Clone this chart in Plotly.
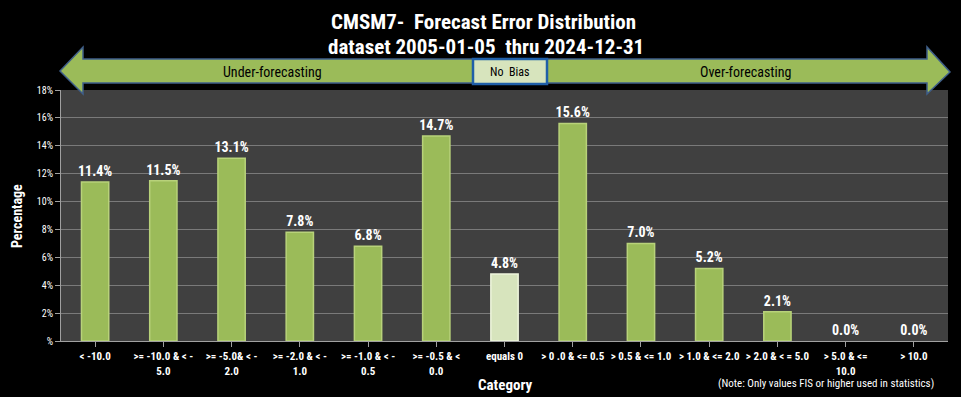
import plotly.graph_objects as go

categories = ["< -10.0", ">= -10.0 & < -<br>5.0", ">= -5.0& < -<br>2.0", ">= -2.0 & < -<br>1.0",
              ">= -1.0 & < -<br>0.5", ">= -0.5 & <<br>0.0", "equals 0", "> 0 .0 & <= 0.5",
              "> 0.5 & <= 1.0", "> 1.0 & <= 2.0", "> 2.0 & < = 5.0", "> 5.0 & <=<br>10.0", "> 10.0"]
values = [11.4, 11.5, 13.1, 7.8, 6.8, 14.7, 4.8, 15.6, 7.0, 5.2, 2.1, 0.0, 0.0]
bar_colors = ["#9bbb59"] * 6 + ["#d7e4bd"] + ["#9bbb59"] * 6
line_colors = ["#b8d27a"] * 6 + ["#eef5dc"] + ["#b8d27a"] * 6
y_tickvals = [0, 2, 4, 6, 8, 10, 12, 14, 16, 18]
y_ticktext = ["%", "2%", "4%", "6%", "8%", "10%", "12%", "14%", "16%", "18%"]

FONT = "Liberation Sans Narrow, Roboto Condensed, Open Sans, sans-serif"

fig = go.Figure()
fig.add_trace(go.Bar(
    x=categories, y=values,
    marker=dict(color=bar_colors,
                line=dict(color=line_colors, width=[1.5 if v > 0 else 0 for v in values])),
    width=0.4,
    text=[f"<b>{v:.1f}%</b>" for v in values],
    textposition="outside",
    constraintext="none",
    textfont=dict(color="white", size=14, family=FONT),
    cliponaxis=False,
    hoverinfo="skip",
))

L, R, T, B = 61, 948, 90, 341
def px(x):
    return (x - L) / (R - L)
def py(y):
    return (B - y) / (B - T)

pts = [(60, 71), (83, 47), (83, 59), (927, 59), (927, 47), (950, 72), (927, 94),
       (927, 83), (83, 83), (83, 94)]
path = "M " + " L ".join(f"{px(x):.5f},{py(y):.5f}" for x, y in pts) + " Z"

shapes = [
    dict(type="path", xref="paper", yref="paper", path=path,
         fillcolor="#9bbb59", line=dict(color="#3f5f8a", width=1.5), layer="above"),
    dict(type="rect", xref="paper", yref="paper", x0=px(473), x1=px(547), y0=py(84), y1=py(59),
         fillcolor="#d7e4bd", line=dict(color="#1f5fa8", width=2.5), layer="above"),
]

def ann(text, x, y, size, color="white", angle=0):
    return dict(text=text, x=px(x), y=py(y), xref="paper", yref="paper",
                xanchor="center", yanchor="middle", showarrow=False, textangle=angle,
                font=dict(color=color, size=size, family=FONT))

annotations = [
    ann("Under-forecasting", 272, 72, 14, "black"),
    ann("No  Bias", 510, 71.5, 12, "black"),
    ann("Over-forecasting", 745, 72, 14, "black"),
    ann("<b>CMSM7-  Forecast Error Distribution</b>", 483, 22, 21),
    ann("<b>dataset 2005-01-05  thru 2024-12-31</b>", 486, 47, 21),
    ann("(Note: Only values FIS or higher used in statistics)", 826, 383, 11),
    ann("<b>Category</b>", 505, 385, 15),
    ann("<b>Percentage</b>", 17, 216, 14, angle=-90),
]

fig.update_layout(
    width=961, height=397,
    paper_bgcolor="black", plot_bgcolor="#404040",
    margin=dict(l=L, r=961 - R, t=T, b=397 - B, autoexpand=False),
    showlegend=False,
    hovermode=False,
    shapes=shapes, annotations=annotations,
    font=dict(family=FONT, color="white"),
    xaxis=dict(
        automargin=False,
        tickfont=dict(color="white", size=11, family=FONT, weight="bold"),
        ticks="outside", ticklen=5, tickcolor="#a0a0a0",
        showline=True, linecolor="#a0a0a0", linewidth=1,
        tickangle=0,
    ),
    yaxis=dict(
        automargin=False,
        range=[0, 18], tickvals=y_tickvals, ticktext=y_ticktext,
        tickfont=dict(color="white", size=10, family=FONT),
        gridcolor="#7a7a7a", gridwidth=1,
        ticks="outside", ticklen=5, tickcolor="#a0a0a0",
        showline=True, linecolor="#a0a0a0", linewidth=1,
        zeroline=False,
    ),
)

fig.write_html("out.html", config={"displayModeBar": False},
               post_script="document.body.style.margin='0';document.body.style.background='black';")
